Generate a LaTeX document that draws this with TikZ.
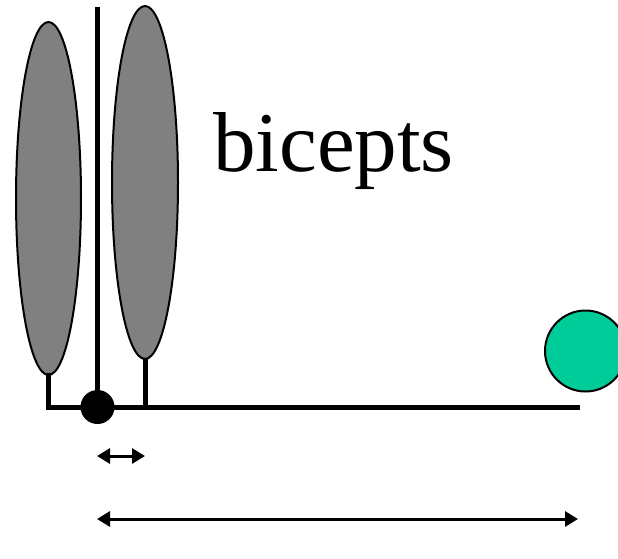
\documentclass[tikz,border=0pt]{standalone}
\usepackage{fontspec}
\setmainfont{Liberation Serif}
\usetikzlibrary{arrows.meta}
\definecolor{muscle}{RGB}{128,128,128}
\definecolor{ballc}{RGB}{0,204,153}
\begin{document}
\begin{tikzpicture}[x=1pt,y=-1pt,
  barstyle/.style={line width=5pt},
  dimarrow/.style={line width=3pt, {Triangle[length=13pt,width=15pt]}-{Triangle[length=13pt,width=15pt]}}]
\useasboundingbox (0,0) rectangle (618,558);
\clip (0,0) rectangle (618,558);
% muscles
\draw[line width=2pt, fill=muscle] (48.5,198.5) ellipse [x radius=32.5, y radius=176.5];
\draw[line width=2pt, fill=muscle] (145,182.5) ellipse [x radius=33, y radius=176.5];
\coordinate (lbot) at (48.5,375);
\coordinate (rbot) at (145,359);
\coordinate (rodtop) at (97.5,7);
\coordinate (lcorner) at (48.5,407);
\coordinate (rfoot) at (145,407);
\coordinate (barend) at (577,407);
\node[circle, fill=black, minimum size=34pt, inner sep=0pt] (pivot) at (97.5,407) {};
% rod and stems
\draw[barstyle] (rodtop) -- (pivot.center);
\draw[barstyle, line cap=rect] (lbot) -- (lcorner) -- (barend);
\draw[barstyle] (rbot) -- (rfoot);
% ball
\node[circle, draw=black, line width=2pt, fill=ballc, minimum size=81pt, inner sep=0pt] (ball) at (585.5,351) {};
% text
\node[anchor=base west, inner sep=0pt, font=\fontsize{85}{90}\selectfont] (label) at (213,171) {bicepts};
% dimension arrows
\coordinate (sa) at (97,456);
\coordinate (sb) at (145,456);
\draw[dimarrow] (sa) -- (sb);
\coordinate (la) at (97,519);
\coordinate (lb) at (578,519);
\draw[dimarrow] (la) -- (lb);
\end{tikzpicture}
\end{document}
